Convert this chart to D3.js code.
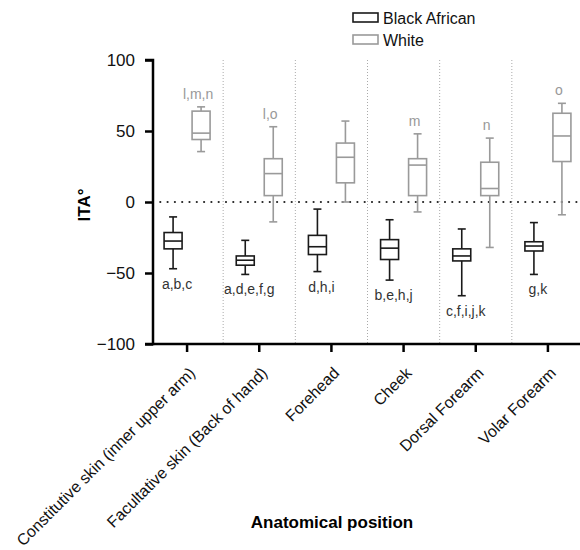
<!DOCTYPE html>
<html>
<head>
<meta charset="utf-8">
<script src="https://cdn.jsdelivr.net/npm/d3@7"></script>
<style>
  body { margin: 0; background: #fff; }
  svg { font-family: "Liberation Sans", Arial, sans-serif; }
</style>
</head>
<body>
<svg id="chart" width="580" height="550"></svg>
<script>
// anatomical positions
let categories = ['Constitutive skin (inner upper arm)', 'Facultative skin (Back of hand)',
    'Forehead', 'Cheek', 'Dorsal Forearm', 'Volar Forearm'];

// [min, q1, median, q3, max]
let blackStats = [
    [-47, -33, -27.5, -21.5, -10.5],
    [-51, -44.5, -41, -38, -27],
    [-49, -37, -31.5, -23.5, -5],
    [-55, -40.5, -32.5, -26.5, -12.5],
    [-66, -41.5, -38, -33, -19],
    [-51, -34.5, -31, -28, -14.5]
];
let whiteStats = [
    [35.5, 44, 48.5, 64, 67],
    [-14, 4.5, 20, 30.5, 53],
    [0, 13.5, 31.5, 41.5, 57],
    [-7, 4.5, 26, 30.5, 48],
    [-32, 4.5, 9.5, 28, 45],
    [-9, 28.5, 46.5, 62.5, 69.5]
];
let blackLabels = ['a,b,c', 'a,d,e,f,g', 'd,h,i', 'b,e,h,j', 'c,f,i,j,k', 'g,k'];
let whiteLabels = ['l,m,n', 'l,o', '', 'm', 'n', 'o'];
let groups = ['Black African', 'White'];
let yTicks = [-100, -50, 0, 50, 100];

let svg = d3.select('#chart');
let margin = {l: 153, t: 60, r: 0, b: 206};
let size = {w: 580, h: 550};
let plotW = size.w - margin.l - margin.r;
let plotH = size.h - margin.t - margin.b;

let canvas = svg.append('g')
    .attr('transform', `translate(${margin.l}, ${margin.t})`);

let xScale = d3.scaleBand()
    .domain(categories)
    .range([-2, plotW + 4]);

let yScale = d3.scaleLinear()
    .domain([-100, 100])
    .range([plotH, 0]);

let colors = {'Black African': '#1a1a1a', 'White': '#9a9a9a'};
let offset = {'Black African': -14, 'White': 14};
let boxW = 18, capW = 8;
let center = d => xScale(d) + xScale.bandwidth() / 2;

// dotted dividers between categories
canvas.selectAll('.divider')
    .data(categories.slice(1))
    .join('line')
    .classed('divider', true)
    .attr('x1', d => xScale(d))
    .attr('x2', d => xScale(d))
    .attr('y1', 0)
    .attr('y2', plotH)
    .attr('stroke', '#aaa')
    .attr('stroke-width', 1)
    .attr('stroke-dasharray', '1,2');

// zero line
canvas.append('line')
    .attr('x1', 0).attr('x2', plotW)
    .attr('y1', yScale(0)).attr('y2', yScale(0))
    .attr('stroke', '#222')
    .attr('stroke-width', 2.2)
    .attr('stroke-linecap', 'round')
    .attr('stroke-dasharray', '0,7.3');

function drawBoxes(stats, group) {
    let color = colors[group];
    let g = canvas.selectAll('.box-' + group.replace(' ', ''))
        .data(stats)
        .join('g')
        .attr('class', 'box-' + group.replace(' ', ''))
        .attr('transform', (d, i) => `translate(${center(categories[i]) + offset[group]}, 0)`);

    g.append('line')
        .attr('x1', 0).attr('x2', 0)
        .attr('y1', d => yScale(d[0])).attr('y2', d => yScale(d[4]))
        .attr('stroke', color).attr('stroke-width', 1.6);
    g.append('rect')
        .attr('x', -boxW / 2)
        .attr('y', d => yScale(d[3]))
        .attr('width', boxW)
        .attr('height', d => yScale(d[1]) - yScale(d[3]))
        .attr('fill', '#fff')
        .attr('stroke', color).attr('stroke-width', 1.6);
    g.append('line')
        .attr('x1', -boxW / 2).attr('x2', boxW / 2)
        .attr('y1', d => yScale(d[2])).attr('y2', d => yScale(d[2]))
        .attr('stroke', color).attr('stroke-width', 1.6);
    g.selectAll('.cap')
        .data(d => [d[0], d[4]])
        .join('line')
        .classed('cap', true)
        .attr('x1', -capW / 2).attr('x2', capW / 2)
        .attr('y1', v => yScale(v)).attr('y2', v => yScale(v))
        .attr('stroke', color).attr('stroke-width', 1.6);
}
drawBoxes(blackStats, 'Black African');
drawBoxes(whiteStats, 'White');

// significance letters
canvas.selectAll('.blackLabel')
    .data(blackLabels)
    .join('text')
    .classed('blackLabel', true)
    .attr('x', (d, i) => center(categories[i]) + offset['Black African'] + 4)
    .attr('y', (d, i) => yScale(blackStats[i][0]) + 20)
    .attr('text-anchor', 'middle')
    .style('font-size', '14px')
    .attr('fill', '#333')
    .text(d => d);

canvas.selectAll('.whiteLabel')
    .data(whiteLabels)
    .join('text')
    .classed('whiteLabel', true)
    .attr('x', (d, i) => center(categories[i]) + offset['White'] - 3)
    .attr('y', (d, i) => yScale(whiteStats[i][4]) - 8)
    .attr('text-anchor', 'middle')
    .style('font-size', '14px')
    .attr('fill', '#999')
    .text(d => d);

// axes
let axisY = d3.axisLeft(yScale)
    .tickValues(yTicks)
    .tickSize(8)
    .tickPadding(10)
    .tickFormat(d => d < 0 ? '\u2212' + Math.abs(d) : d);

let yG = canvas.append('g').call(axisY);
yG.select('.domain').attr('stroke-width', 2.5).attr('d', `M-8,0H0V${plotH}H-8`);
yG.selectAll('.tick line').attr('stroke-width', 2.5);
yG.selectAll('.tick text').style('font-size', '17px').attr('fill', '#111').attr('font-family', 'Liberation Sans, Arial');

let axisX = d3.axisBottom(xScale)
    .tickSize(8)
    .tickSizeOuter(0)
    .tickFormat('');

let xG = canvas.append('g')
    .attr('transform', `translate(0, ${plotH})`)
    .call(axisX);
xG.select('.domain').attr('stroke-width', 2.5).attr('d', `M0,0H${plotW}`);
xG.selectAll('.tick line').attr('stroke-width', 2.5);

canvas.selectAll('.xLabel')
    .data(categories)
    .join('text')
    .classed('xLabel', true)
    .attr('transform', d => `translate(${center(d) + 9}, ${plotH + 30}) rotate(-45)`)
    .attr('text-anchor', 'end')
    .style('font-size', '16px')
    .attr('fill', '#111')
    .text(d => d);

// axis titles
svg.append('text')
    .attr('transform', 'translate(90, 205) rotate(-90)')
    .attr('text-anchor', 'middle')
    .style('font-size', '17px')
    .style('font-weight', 'bold')
    .text('ITA\u00b0');

svg.append('text')
    .attr('x', 332)
    .attr('y', 528)
    .attr('text-anchor', 'middle')
    .style('font-size', '17px')
    .style('font-weight', 'bold')
    .text('Anatomical position');

// legend
let legend = svg.selectAll('.legend')
    .data(groups)
    .join('g')
    .classed('legend', true)
    .attr('transform', (d, i) => `translate(353, ${13 + i * 22})`);
legend.append('rect')
    .attr('width', 25).attr('height', 9)
    .attr('fill', '#fff')
    .attr('stroke', d => colors[d])
    .attr('stroke-width', 1.6);
legend.append('text')
    .attr('x', 30).attr('y', 11)
    .style('font-size', '16px')
    .attr('fill', '#111')
    .text(d => d);
</script>
</body>
</html>
